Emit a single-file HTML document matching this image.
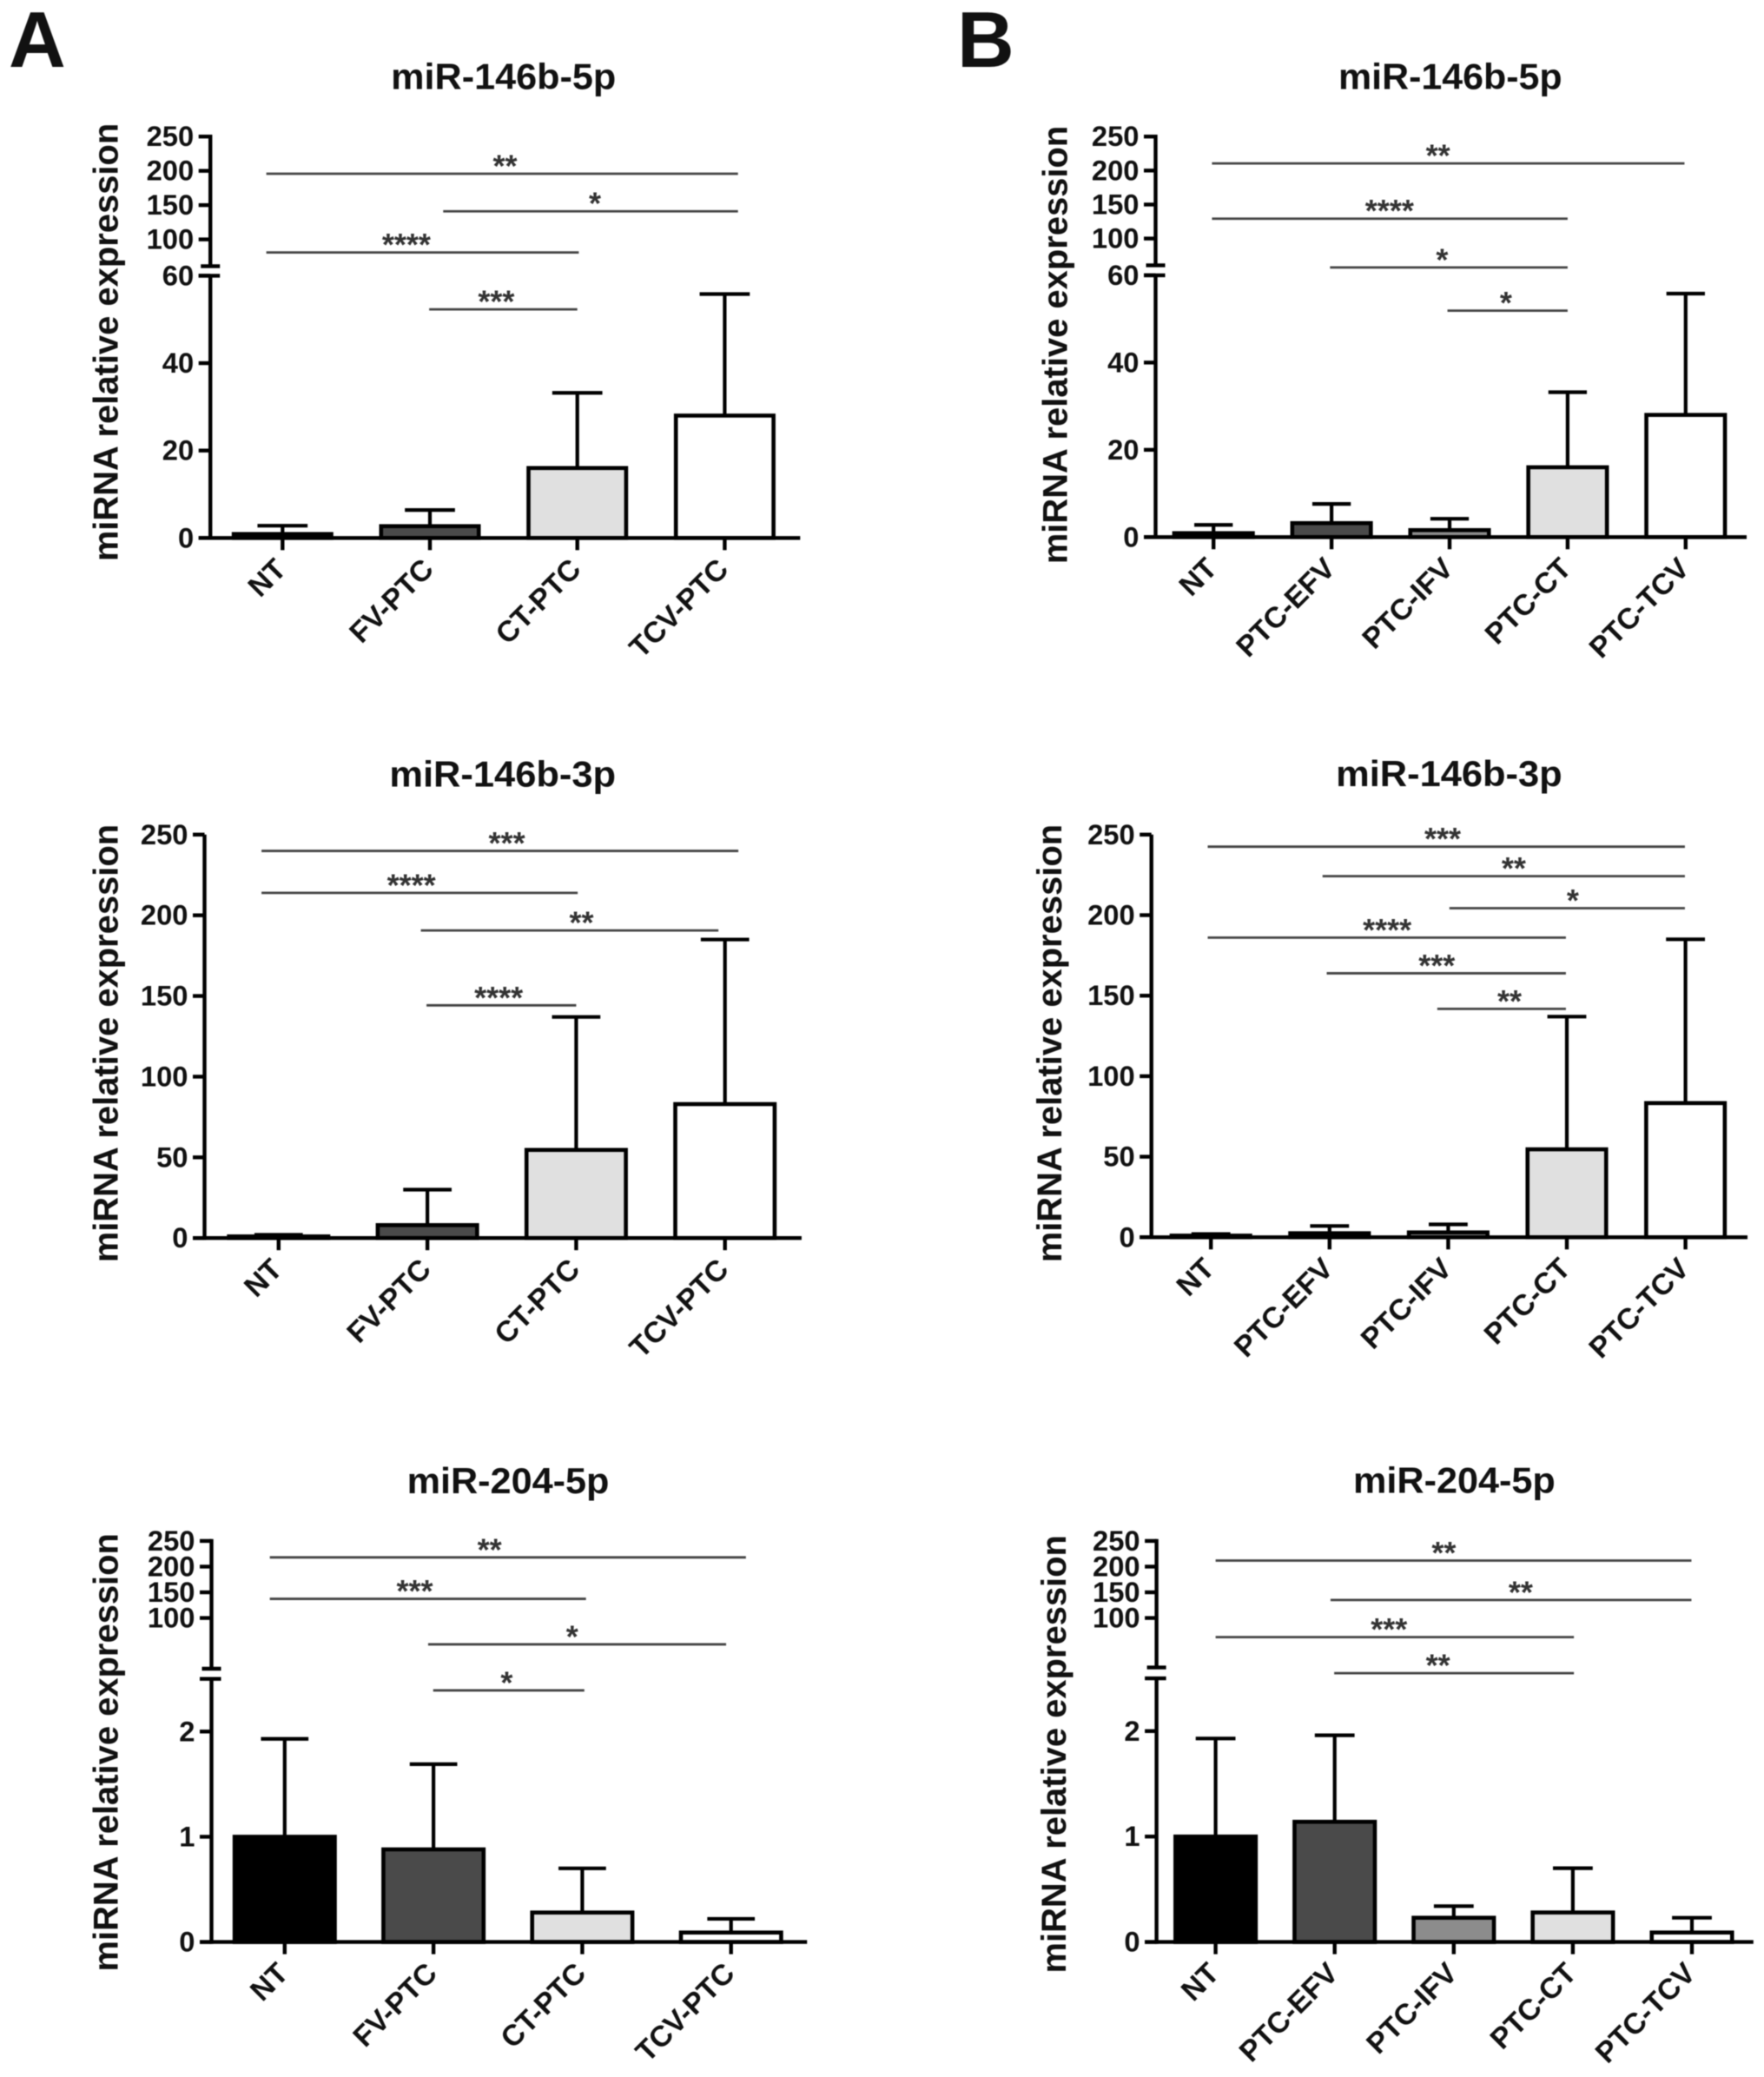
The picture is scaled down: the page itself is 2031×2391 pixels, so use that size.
<!DOCTYPE html>
<html lang="en">
<head>
<meta charset="utf-8">
<title>miRNA relative expression</title>
<style>
html,body{margin:0;padding:0;background:#fff;}
svg{display:block;filter:blur(0.6px);}
text{font-family:"Liberation Sans",Arial,sans-serif;font-weight:bold;fill:#111;}
</style>
</head>
<body>
<svg id="fig" xmlns="http://www.w3.org/2000/svg" width="2031" height="2391" viewBox="0 0 2031 2391">
<rect x="0" y="0" width="2031" height="2391" fill="#fff"/>
<text x="10" y="77" font-size="91">A</text>
<text x="1102" y="77" font-size="91">B</text>
</svg>
<script>
// ---------- categories ----------
const categoriesA = ["NT", "FV-PTC", "CT-PTC", "TCV-PTC"];
const categoriesB = ["NT", "PTC-EFV", "PTC-IFV", "PTC-CT", "PTC-TCV"];
// ---------- bar fill by category ----------
const fillsA = ["#000000", "#4a4a4a", "#e0e0e0", "#ffffff"];
const fillsB = ["#000000", "#4a4a4a", "#8c8c8c", "#e0e0e0", "#ffffff"];
// ---------- tick labels ----------
const ticksBroken60 = [0, 20, 40, 60];
const ticksUpper = [100, 150, 200, 250];
const ticksLinear = [0, 50, 100, 150, 200, 250];
const ticksBroken2 = [0, 1, 2];
// ---------- series: mean and mean+SD ----------
const meanA1 = [0.9, 2.7, 16, 28];
const errA1 = [2.8, 6.4, 33.2, 55.8];
const meanA2 = [1, 8, 54.6, 83];
const errA2 = [2, 30, 137, 185];
const meanA3 = [1, 0.88, 0.28, 0.09];
const errA3 = [1.93, 1.69, 0.70, 0.22];
const meanB1 = [0.9, 3.2, 1.6, 16, 28];
const errB1 = [2.8, 7.6, 4.2, 33.2, 55.8];
const meanB2 = [1, 2.5, 3, 54.6, 83.3];
const errB2 = [2, 7, 8, 137, 185];
const meanB3 = [1, 1.14, 0.23, 0.28, 0.09];
const errB3 = [1.93, 1.96, 0.34, 0.70, 0.23];
// ---------- significance brackets: from/to in category units, level in axis units ----------
const sigFromA1 = [-0.11, 1.09, -0.11, 0.995];
const sigToA1 = [3.09, 3.09, 2.01, 2.0];
const sigLevelA1 = [195.8, 141, 81, 52.3];
const sigMarkA1 = ["**", "*", "****", "***"];
const sigMarkAtA1 = [1.51, 2.12, 0.84, 1.45];
const sigFromA2 = [-0.115, -0.115, 0.956, 0.994];
const sigToA2 = [3.09, 2.01, 2.956, 2.0];
const sigLevelA2 = [239.9, 213.9, 190.6, 144.2];
const sigMarkA2 = ["***", "****", "**", "****"];
const sigMarkAtA2 = [1.534, 0.892, 2.036, 1.479];
const sigFromA3 = [-0.10, -0.10, 0.964, 0.998];
const sigToA3 = [3.10, 2.025, 2.967, 2.014];
const sigLevelA3 = [218, 137.3, 48.7, 2.391];
const sigMarkA3 = ["**", "***", "*", "*"];
const sigMarkAtA3 = [1.377, 0.874, 1.932, 1.492];
const sigFromB1 = [-0.013, -0.013, 0.987, 1.982];
const sigToB1 = [3.99, 3.0, 3.0, 3.0];
const sigLevelB1 = [210.5, 129.2, 61.8, 51.9];
const sigMarkB1 = ["**", "****", "*", "*"];
const sigMarkAtB1 = [1.902, 1.491, 1.937, 2.477];
const sigFromB2 = [-0.027, 0.941, 2.01, -0.027, 0.976, 1.908];
const sigToB2 = [3.995, 3.995, 3.995, 2.992, 2.992, 2.992];
const sigLevelB2 = [242.5, 224.2, 204.3, 186.05, 163.9, 141.8];
const sigMarkB2 = ["***", "**", "*", "****", "***", "**"];
const sigMarkAtB2 = [1.953, 2.553, 3.05, 1.486, 1.904, 2.517];
const sigFromB3 = [0, 0.965, 0, 0.996];
const sigToB3 = [3.996, 3.996, 3.009, 3.009];
const sigLevelB3 = [211.8, 135, 62.7, 2.549];
const sigMarkB3 = ["**", "**", "***", "**"];
const sigMarkAtB3 = [1.917, 2.562, 1.456, 1.868];

// ---------- panel layout (pixels) ----------
const panels = [
 {id:"a1",title:"miR-146b-5p",titleX:579.7,titleY:102.5,titleW:259,yTitleX:135.5,yTitleY:394,cats:categoriesA,fills:fillsA,mean:meanA1,err:errA1,from:sigFromA1,to:sigToA1,level:sigLevelA1,mark:sigMarkA1,markAt:sigMarkAtA1,
  axisX:242.2,xEnd:921.3,x0:325.3,dx:169.7,barW:112.4,capW:57.7,base:619.3,lowTicks:ticksBroken60,lowVal:60,lowPx:317.4,segTop:60,lowMax:62,upTicks:ticksUpper,upLoPx:275.6,upHiPx:157.2,breakPx:306.4},
 {id:"a2",title:"miR-146b-3p",titleX:578.7,titleY:905.7,titleW:260.7,yTitleX:135.5,yTitleY:1201.1,cats:categoriesA,fills:fillsA,mean:meanA2,err:errA2,from:sigFromA2,to:sigToA2,level:sigLevelA2,mark:sigMarkA2,markAt:sigMarkAtA2,
  axisX:235.5,xEnd:922.9,x0:320.8,dx:171.3,barW:114.4,capW:55.7,base:1425.2,lowTicks:ticksLinear,lowVal:250,lowPx:960.8,segTop:250,lowMax:1000},
 {id:"a3",title:"miR-204-5p",titleX:585,titleY:1719.2,titleW:232.8,yTitleX:135.5,yTitleY:2017.3,cats:categoriesA,fills:fillsA,mean:meanA3,err:errA3,from:sigFromA3,to:sigToA3,level:sigLevelA3,mark:sigMarkA3,markAt:sigMarkAtA3,
  axisX:243.5,xEnd:929.2,x0:327.8,dx:171.3,barW:115.4,capW:54.7,base:2235.6,lowTicks:ticksBroken2,lowVal:2,lowPx:1993.3,segTop:2.5,lowMax:2.6,upTicks:ticksUpper,upLoPx:1862.6,upHiPx:1773.9,breakPx:1921},
 {id:"b1",title:"miR-146b-5p",titleX:1669.8,titleY:102.5,titleW:257.6,yTitleX:1228.4,yTitleY:397,cats:categoriesB,fills:fillsB,mean:meanB1,err:errB1,from:sigFromB1,to:sigToB1,level:sigLevelB1,mark:sigMarkB1,markAt:sigMarkAtB1,
  axisX:1330.5,xEnd:2011,x0:1397.2,dx:135.9,barW:90.5,capW:44.3,base:618.3,lowTicks:ticksBroken60,lowVal:60,lowPx:316.9,segTop:60,lowMax:62,upTicks:ticksUpper,upLoPx:274.6,upHiPx:157.2,breakPx:305.4},
 {id:"b2",title:"miR-146b-3p",titleX:1668.4,titleY:905.2,titleW:260.6,yTitleX:1221.9,yTitleY:1201.1,cats:categoriesB,fills:fillsB,mean:meanB2,err:errB2,from:sigFromB2,to:sigToB2,level:sigLevelB2,mark:sigMarkB2,markAt:sigMarkAtB2,
  axisX:1325.7,xEnd:2012,x0:1394.2,dx:136.6,barW:90.5,capW:44.8,base:1424.3,lowTicks:ticksLinear,lowVal:250,lowPx:960.8,segTop:250,lowMax:1000},
 {id:"b3",title:"miR-204-5p",titleX:1674.4,titleY:1718.3,titleW:232.8,yTitleX:1226.8,yTitleY:2019.3,cats:categoriesB,fills:fillsB,mean:meanB3,err:errB3,from:sigFromB3,to:sigToB3,level:sigLevelB3,mark:sigMarkB3,markAt:sigMarkAtB3,
  axisX:1331.6,xEnd:2018.8,x0:1399.6,dx:137.1,barW:92.5,capW:45.8,base:2235.6,lowTicks:ticksBroken2,lowVal:2,lowPx:1992.8,segTop:2.5,lowMax:2.6,upTicks:ticksUpper,upLoPx:1862.6,upHiPx:1773.9,breakPx:1919.6}
];

const svgNS = "http://www.w3.org/2000/svg";
const root = document.getElementById("fig");
function make(tag, parent) {
  const node = document.createElementNS(svgNS, tag);
  parent.appendChild(node);
  return node;
}
function setAll(node, props) {
  for (const k in props) node.setAttribute(k, props[k]);
  return node;
}
const AXIS_W = 4.4, BAR_W = 4.6, TICK_LEN = 13.5, TICK_FS = 32, CAT_FS = 33.7, DIGIT_W = 18.2;

panels.forEach(function (p) {
  const g = make("g", root);
  
  

  const lowK = (p.base - p.lowPx) / p.lowVal;
  const upK = p.upTicks ? (p.upLoPx - p.upHiPx) / (p.upTicks[p.upTicks.length - 1] - p.upTicks[0]) : 0;
  const yScale = function (v) {
    if (v <= p.lowMax) return p.base - v * lowK;
    return p.upLoPx - (v - p.upTicks[0]) * upK;
  };
  const xScale = function (i) { return p.x0 + i * p.dx; };

  // title
  const title = make("text", g);
  
  
  setAll(title, {x: p.titleX, y: p.titleY, "font-size": 42, "text-anchor": "middle", textLength: p.titleW, lengthAdjust: "spacingAndGlyphs"});
  title.textContent = p.title;

  // y axis title
  const yTitle = make("text", g);
  
  
  setAll(yTitle, {transform: "translate(" + p.yTitleX + "," + p.yTitleY + ") rotate(-90)", "font-size": 39.5, "text-anchor": "middle", textLength: 504.4, lengthAdjust: "spacingAndGlyphs"});
  yTitle.textContent = "miRNA relative expression";

  // bars + error bars
  p.mean.forEach(function (m, i) {
    const cx = xScale(i), top = yScale(m), errTop = yScale(p.err[i]);
    const stem = make("line", g);
    
    
    setAll(stem, {x1: cx, x2: cx, y1: top, y2: errTop, stroke: "#000", "stroke-width": 4.2});
    const cap = make("line", g);
    
    
    setAll(cap, {x1: cx - p.capW / 2, x2: cx + p.capW / 2, y1: errTop, y2: errTop, stroke: "#000", "stroke-width": 4.2});
    const bar = make("rect", g);
    
    
    setAll(bar, {x: cx - p.barW / 2, y: top, width: p.barW, height: Math.max(0, p.base - top), fill: p.fills[i], stroke: "#000", "stroke-width": BAR_W});
  });

  // x axis
  const xAxis = make("line", g);
  
  
  setAll(xAxis, {x1: p.axisX - TICK_LEN, x2: p.xEnd, y1: p.base, y2: p.base, stroke: "#000", "stroke-width": AXIS_W});

  // x ticks and labels
  p.cats.forEach(function (c, i) {
    const cx = xScale(i);
    const tick = make("line", g);
    
    
    setAll(tick, {x1: cx, x2: cx, y1: p.base, y2: p.base + 14, stroke: "#000", "stroke-width": AXIS_W});
    const lab = make("text", g);
    
    
    setAll(lab, {transform: "translate(" + (cx + 6) + "," + (p.base + 38) + ") rotate(-45)", "font-size": CAT_FS, "text-anchor": "end"});
    lab.textContent = c;
  });

  // y axis lower segment
  const lowAxis = make("line", g);
  
  
  setAll(lowAxis, {x1: p.axisX, x2: p.axisX, y1: p.base + AXIS_W / 2, y2: yScale(p.segTop), stroke: "#000", "stroke-width": AXIS_W});

  const drawTick = function (v, y, part) {
    const t = make("line", g);
    
    
    setAll(t, {x1: p.axisX - TICK_LEN, x2: p.axisX, y1: y, y2: y, stroke: "#000", "stroke-width": AXIS_W});
    const s = String(v);
    const l = make("text", g);
    
    
    setAll(l, {x: p.axisX - TICK_LEN - 5.5, y: y + 11, "font-size": TICK_FS, "text-anchor": "end", textLength: s.length * DIGIT_W, lengthAdjust: "spacingAndGlyphs"});
    l.textContent = s;
  };
  p.lowTicks.forEach(function (v) { drawTick(v, yScale(v), "lower"); });

  // y axis upper segment + break
  if (p.upTicks) {
    const upAxis = make("line", g);
    
    
    setAll(upAxis, {x1: p.axisX, x2: p.axisX, y1: p.breakPx, y2: p.upHiPx - AXIS_W / 2, stroke: "#000", "stroke-width": AXIS_W});
    p.upTicks.forEach(function (v) { drawTick(v, yScale(v), "upper"); });
    const breakHi = make("line", g);
    
    
    setAll(breakHi, {x1: p.axisX - 11, x2: p.axisX + 11, y1: p.breakPx, y2: p.breakPx, stroke: "#000", "stroke-width": AXIS_W});
    const breakLo = make("line", g);
    
    
    setAll(breakLo, {x1: p.axisX - 13.5, x2: p.axisX + 11, y1: yScale(p.segTop), y2: yScale(p.segTop), stroke: "#000", "stroke-width": AXIS_W});
  }

  // significance brackets
  p.level.forEach(function (v, i) {
    const y = yScale(v);
    const line = make("line", g);
    
    
    setAll(line, {x1: xScale(p.from[i]), x2: xScale(p.to[i]), y1: y, y2: y, stroke: "#444", "stroke-width": 2.8});
    const star = make("text", g);
    
    
    setAll(star, {x: xScale(p.markAt[i]), y: y + 3.5, "font-size": 36, "text-anchor": "middle"});
    star.style.fill = "#333";
    star.textContent = p.mark[i];
  });
});
</script>
</body>
</html>
